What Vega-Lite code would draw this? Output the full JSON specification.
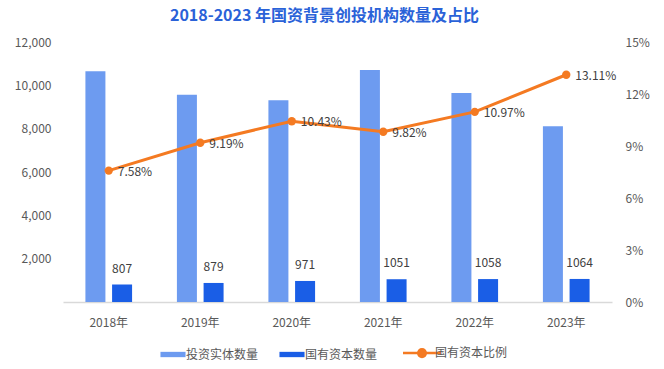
{
  "$schema": "https://vega.github.io/schema/vega-lite/v6.json",
  "width": 549,
  "height": 260,
  "autosize": {"type": "none"},
  "padding": {"left": 63, "top": 42, "right": 52, "bottom": 67},
  "background": "#ffffff",
  "config": {
    "view": {"stroke": null},
    "font": "Noto Sans CJK SC",
    "axis": {"labelFont": "Noto Sans CJK SC", "labelFontSize": 12, "labelColor": "#595959", "grid": false, "ticks": false, "domain": false, "title": null},
    "legend": {"labelFont": "Noto Sans CJK SC", "labelFontSize": 12, "labelColor": "#595959"}
  },
  "title": {
    "text": "2018-2023 年国资背景创投机构数量及占比",
    "font": "Noto Sans CJK SC",
    "fontSize": 16,
    "fontWeight": "bold",
    "color": "#2a62d8",
    "anchor": "middle",
    "dx": -13,
    "offset": 12
  },
  "datasets": {
    "bars": [
      {"year": "2018年", "series": "投资实体数量", "value": 10646},
      {"year": "2018年", "series": "国有资本数量", "value": 807},
      {"year": "2019年", "series": "投资实体数量", "value": 9565},
      {"year": "2019年", "series": "国有资本数量", "value": 879},
      {"year": "2020年", "series": "投资实体数量", "value": 9310},
      {"year": "2020年", "series": "国有资本数量", "value": 971},
      {"year": "2021年", "series": "投资实体数量", "value": 10703},
      {"year": "2021年", "series": "国有资本数量", "value": 1051},
      {"year": "2022年", "series": "投资实体数量", "value": 9645},
      {"year": "2022年", "series": "国有资本数量", "value": 1058},
      {"year": "2023年", "series": "投资实体数量", "value": 8116},
      {"year": "2023年", "series": "国有资本数量", "value": 1064}
    ],
    "ratio": [
      {"year": "2018年", "series": "国有资本比例", "ratio": 0.0758},
      {"year": "2019年", "series": "国有资本比例", "ratio": 0.0919},
      {"year": "2020年", "series": "国有资本比例", "ratio": 0.1043},
      {"year": "2021年", "series": "国有资本比例", "ratio": 0.0982},
      {"year": "2022年", "series": "国有资本比例", "ratio": 0.1097},
      {"year": "2023年", "series": "国有资本比例", "ratio": 0.1311}
    ]
  },
  "encoding": {
    "x": {
      "field": "year",
      "type": "nominal",
      "sort": null,
      "scale": {"paddingInner": 0.49, "paddingOuter": 0.245},
      "axis": {"labelAngle": 0, "domain": true, "domainColor": "#d9d9d9", "domainWidth": 1.5, "labelPadding": 15}
    }
  },
  "layer": [
    {
      "data": {"name": "bars"},
      "encoding": {
        "xOffset": {"field": "series", "type": "nominal", "sort": ["投资实体数量", "国有资本数量"], "scale": {"paddingInner": 0.25}},
        "y": {
          "field": "value",
          "type": "quantitative",
          "scale": {"domain": [0, 12000], "nice": false},
          "axis": {"values": [0, 2000, 4000, 6000, 8000, 10000, 12000], "labelExpr": "datum.value === 0 ? '' : format(datum.value, ',')", "labelPadding": 12}
        }
      },
      "layer": [
        {
          "mark": {"type": "bar"},
          "encoding": {
            "color": {
              "field": "series",
              "type": "nominal",
              "scale": {"domain": ["投资实体数量", "国有资本数量", "国有资本比例"], "range": ["#6d9bf0", "#1a5ee6", "#f47a22"]},
              "legend": {
                "title": null,
                "orient": "none",
                "legendX": 104,
                "legendY": 305,
                "direction": "horizontal",
                "columns": 3,
                "symbolSize": 1444,
                "labelOffset": 7,
                "columnPadding": 20,
                "encode": {
                  "symbols": {
                    "update": {
                      "shape": {"signal": "datum.value === '国有资本比例' ? 'M-1,0H1M0.2,0A0.2,0.2,0,1,1,-0.2,0A0.2,0.2,0,1,1,0.2,0' : 'M-0.66,-0.14H0.66V0.14H-0.66Z'"},
                      "fill": {"signal": "scale('color', datum.value)"},
                      "stroke": {"signal": "scale('color', datum.value)"},
                      "strokeWidth": {"signal": "datum.value === '国有资本比例' ? 2.5 : 0"},
                      "opacity": {"value": 1},
                      "fillOpacity": {"value": 1}
                    }
                  }
                }
              }
            }
          }
        },
        {
          "transform": [{"filter": "datum.series === '国有资本数量'"}],
          "mark": {"type": "text", "baseline": "alphabetic", "dy": -12, "fontSize": 12, "color": "#404040"},
          "encoding": {"text": {"field": "value", "type": "quantitative", "format": "d"}}
        }
      ]
    },
    {
      "data": {"name": "ratio"},
      "encoding": {
        "y": {
          "field": "ratio",
          "type": "quantitative",
          "scale": {"domain": [0, 0.15], "nice": false},
          "axis": {"orient": "right", "values": [0, 0.03, 0.06, 0.09, 0.12, 0.15], "format": ".0%", "labelPadding": 13}
        }
      },
      "layer": [
        {
          "mark": {"type": "line", "strokeWidth": 3},
          "encoding": {"color": {"field": "series", "type": "nominal"}}
        },
        {
          "mark": {"type": "point", "filled": true, "size": 70, "opacity": 1},
          "encoding": {"color": {"field": "series", "type": "nominal"}}
        },
        {
          "mark": {"type": "text", "align": "left", "baseline": "middle", "dx": 9, "dy": 1, "fontSize": 12, "color": "#404040"},
          "encoding": {"text": {"field": "ratio", "type": "quantitative", "format": ".2%"}}
        }
      ]
    }
  ],
  "resolve": {"scale": {"y": "independent"}}
}
